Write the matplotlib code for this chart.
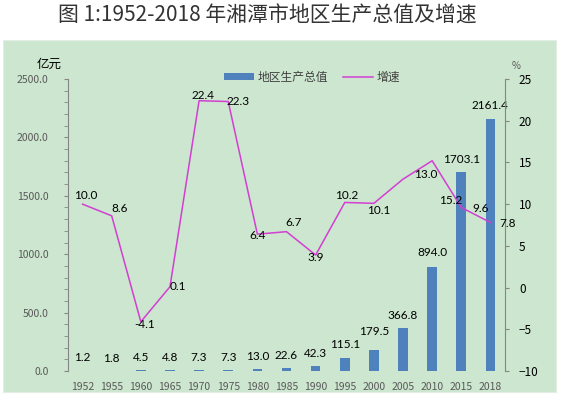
import matplotlib
matplotlib.use("Agg")
import matplotlib.pyplot as plt
from matplotlib.patches import Rectangle
import numpy as np

plt.rcParams['font.family'] = ['Noto Sans CJK SC', 'DejaVu Sans']

years = ["1952", "1955", "1960", "1965", "1970", "1975", "1980", "1985",
         "1990", "1995", "2000", "2005", "2010", "2015", "2018"]
gdp = [1.2, 1.8, 4.5, 4.8, 7.3, 7.3, 13.0, 22.6, 42.3, 115.1, 179.5,
       366.8, 894.0, 1703.1, 2161.4]
growth = [10.0, 8.6, -4.1, 0.1, 22.4, 22.3, 6.4, 6.7, 3.9, 10.2, 10.1,
          13.0, 15.2, 9.6, 7.8]

# label nudges in pixels
growth_off = [(3, 9), (8, 7), (4, -3), (8, 0), (4, 5), (10, 0), (0, -1),
              (7, 9), (0, -2), (2, 7), (5, -7), (23, 5), (19, -40),
              (19, -1), (17, -1)]
gdp_off = [13, 12, 13, 13, 13, 13, 13, 13, 13, 13, 19, 13, 14, 13, 13]

BLUE = '#4F81BD'
PINK = '#D23FD2'
GREY = '#595959'
BG = '#CCE6CF'
NUMFONT = ['Lato', 'Noto Sans CJK SC', 'DejaVu Sans']

fig = plt.figure(figsize=(5.63, 3.97), dpi=100)
fig.patches.append(Rectangle((3 / 563, 1 - 392 / 397), 553 / 563, 352 / 397,
                             transform=fig.transFigure, facecolor=BG,
                             edgecolor='#E4EEE5', lw=0.8, zorder=-10))
fig.text(267 / 563, 1 - 16 / 397, "图 1:1952-2018 年湘潭市地区生产总值及增速",
         ha='center', va='center', fontsize=15, color='#333333')

ax = fig.add_axes([68 / 563, 1 - 371 / 397, 437 / 563, 292 / 397])
ax.set_facecolor('none')
x = np.arange(len(years))

ax.bar(x, gdp, width=0.33, color=BLUE, label="地区生产总值", zorder=2)
ax.set_ylim(0, 2500)
ax.set_xlim(-0.5, len(years) - 0.5)
ax.set_yticks(np.arange(0, 2501, 500))
ax.set_yticks(np.arange(0, 2501, 100), minor=True)
ax.set_yticklabels([f"{v:.1f}" for v in np.arange(0, 2501, 500)])
ax.set_xticks(x)
ax.set_xticklabels(years)
ax.tick_params(axis='x', length=0, pad=8, labelsize=7.5, labelcolor=GREY)
ax.tick_params(axis='y', which='both', length=3, color='#868686',
               pad=11, labelsize=7.5, labelcolor=GREY)
for s in ['top', 'right', 'bottom']:
    ax.spines[s].set_visible(False)
ax.spines['left'].set_color('#868686')

for xi, v, off in zip(x, gdp, gdp_off):
    ax.annotate(f"{v:.1f}", (xi, v), xytext=(0, off), textcoords='offset pixels',
                ha='center', va='center', fontsize=8.5, family=NUMFONT,
                color='black')

ax2 = ax.twinx()
ax2.set_facecolor('none')
ax2.plot(x, growth, color=PINK, lw=1.1, label="增速", zorder=3)
ax2.set_ylim(-10, 25)
ax2.set_yticks(np.arange(-10, 26, 5))
ax2.tick_params(axis='y', length=3, color='#868686', pad=7, labelsize=8.5,
                labelcolor='black')
for s in ['top', 'left', 'bottom']:
    ax2.spines[s].set_visible(False)
ax2.spines['right'].set_color('#868686')

for xi, v, (dx, dy) in zip(x, growth, growth_off):
    ax2.annotate(f"{v:.1f}", (xi, v), xytext=(dx, dy), textcoords='offset pixels',
                 ha='center', va='center', fontsize=8.5, family=NUMFONT,
                 color='black')

fig.text(49 / 563, 1 - 64 / 397, "亿元", ha='center', va='center',
         fontsize=9, color='black')
fig.text(516 / 563, 1 - 66 / 397, "%", ha='center', va='center',
         fontsize=7, color=GREY)

h1, l1 = ax.get_legend_handles_labels()
h2, l2 = ax2.get_legend_handles_labels()
leg = fig.legend(h1 + h2, l1 + l2, loc='center', ncol=2,
                 bbox_to_anchor=(312 / 563, 1 - 77 / 397), frameon=False,
                 fontsize=8.5, handlelength=2.6, handleheight=0.5,
                 columnspacing=1.2, handletextpad=0.3)
for t in leg.get_texts():
    t.set_color('#404040')

fig.savefig("out.png", dpi=100)
